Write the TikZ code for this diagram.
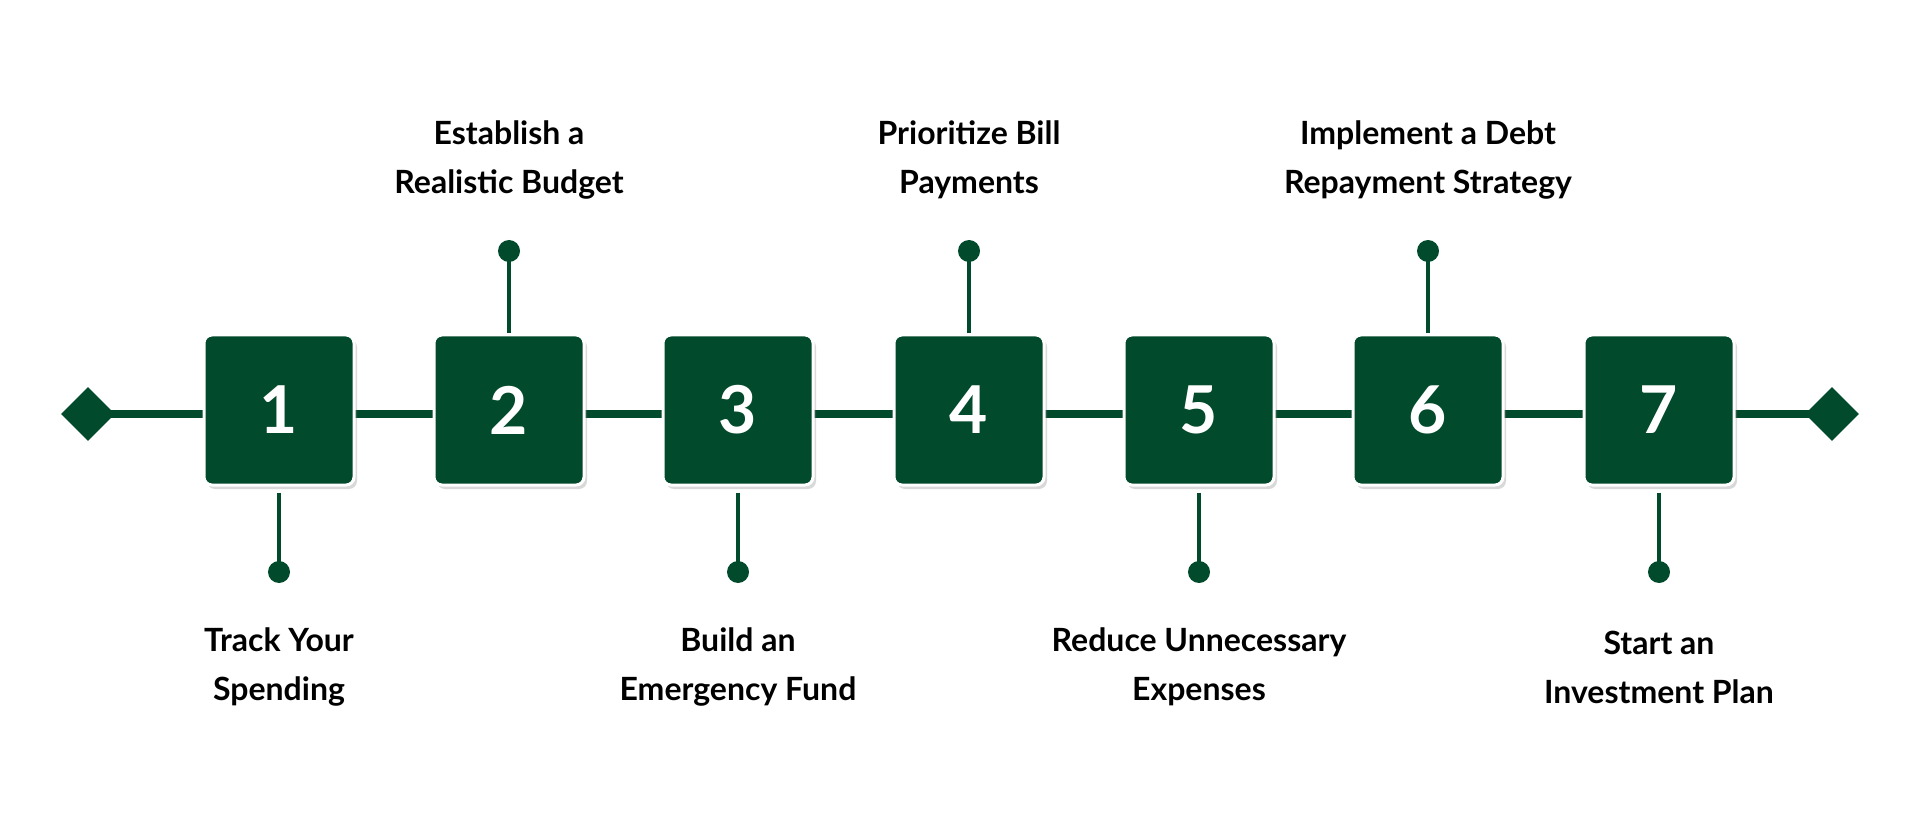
\documentclass[tikz,border=0pt]{standalone}
\usepackage{fontspec}
\setmainfont{Lato}
\usetikzlibrary{shapes.geometric,shadows}
\definecolor{dg}{HTML}{024A2C}
\begin{document}
\begin{tikzpicture}[x=1pt,y=-1pt,
  box/.style={draw=white,line width=3pt,fill=dg,rounded corners=8pt,minimum width=150pt,minimum height=150pt,text=white,font=\fontsize{66}{70}\selectfont\bfseries,drop shadow={shadow xshift=3pt,shadow yshift=-4pt,opacity=0.3}},
  conn/.style={draw=dg,line width=8pt},
  stem/.style={draw=dg,line width=3.5pt},
  dot/.style={circle,fill=dg,minimum size=22pt,inner sep=0pt},
  lbl/.style={align=center,font=\fontsize{32}{49}\selectfont\bfseries,text=black},
  dia/.style={diamond,fill=dg,minimum size=54pt,inner sep=0pt}]
\useasboundingbox (0,0) rectangle (1920,826);
\node[dia] (dl) at (88,414) {};
\node[dia] (dr) at (1832,414) {};
\foreach \i/\x in {1/279,2/509,3/738,4/969,5/1199,6/1428,7/1659}{
  \coordinate (c\i) at (\x,414);
}
\draw[conn] (dl.center) -- (dr.center);
\foreach \i/\x in {1/279,2/509,3/738,4/969,5/1199,6/1428,7/1659}{
  \node[box] (b\i) at (\x,410) {\i};
}
\foreach \i/\x/\t in {2/509/{Establish a\\Realistic Budget},4/969/{Prioritize Bill\\Payments},6/1428/{Implement a Debt\\Repayment Strategy}}{
  \node[dot] (d\i) at (\x,251) {};
  \draw[stem] (b\i.north) -- (d\i.center);
  \node[lbl] (l\i) at (\x,160) {\t};
}
\foreach \i/\x/\t in {1/279/{Track Your\\Spending},3/738/{Build an\\Emergency Fund},5/1199/{Reduce Unnecessary\\Expenses},7/1659/{Start an\\Investment Plan}}{
  \node[dot] (d\i) at (\x,572) {};
  \draw[stem] ([yshift=-6pt]b\i.south) -- (d\i.center);
  \node[lbl] (l\i) at (\x,667) {\t};
}
\end{tikzpicture}
\end{document}
